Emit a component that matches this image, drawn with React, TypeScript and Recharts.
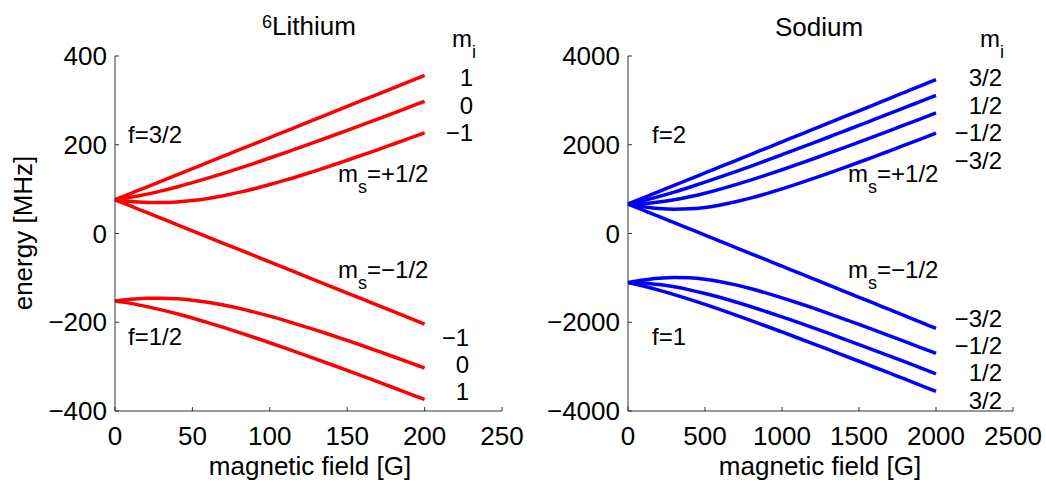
import React from 'react';
import { LineChart, Line, XAxis, YAxis } from 'recharts';

// 6Li: field in gauss, energies in MHz (one array per hyperfine state)
const liField = [0, 5, 10, 15, 20, 30, 40, 50, 60, 70, 80, 90, 100, 110, 120, 130, 140, 150, 160, 170, 180, 190, 200];
const liUpperP1 = [76.1, 83.1, 90.1, 97.1, 104.1, 118.1, 132.1, 146.1, 160.2, 174.2, 188.2, 202.2, 216.2, 230.2, 244.2, 258.3, 272.3, 286.3, 300.3, 314.3, 328.3, 342.3, 356.3];
const liUpper0 = [76.1, 78.6, 81.5, 84.7, 88.2, 96.1, 104.9, 114.5, 124.7, 135.5, 146.7, 158.2, 170.1, 182.2, 194.5, 207.0, 219.7, 232.5, 245.4, 258.4, 271.5, 284.7, 297.9];
const liUpperM1 = [76.1, 73.9, 72.2, 70.9, 70.0, 69.6, 71.0, 74.2, 79.0, 85.2, 92.6, 101.0, 110.3, 120.2, 130.8, 141.8, 153.2, 165.0, 177.0, 189.2, 201.7, 214.3, 227.0];
const liLowerM1 = [76.1, 69.1, 62.1, 55.1, 48.1, 34.1, 20.1, 6.0, -8.0, -22.0, -36.0, -50.0, -64.0, -78.0, -92.1, -106.1, -120.1, -134.1, -148.1, -162.1, -176.1, -190.2, -204.2];
const liLower0 = [-152.1, -150.0, -148.3, -146.9, -146.1, -145.7, -147.1, -150.3, -155.0, -161.2, -168.6, -177.1, -186.3, -196.3, -206.9, -217.9, -229.3, -241.0, -253.0, -265.3, -277.7, -290.3, -303.1];
const liLowerP1 = [-152.1, -154.6, -157.5, -160.8, -164.3, -172.1, -180.9, -190.5, -200.8, -211.5, -222.7, -234.3, -246.2, -258.3, -270.6, -283.1, -295.8, -308.6, -321.5, -334.5, -347.6, -360.8, -374.0];

// Sodium
const naField = [0, 50, 100, 150, 200, 300, 400, 500, 600, 700, 800, 900, 1000, 1100, 1200, 1300, 1400, 1500, 1600, 1700, 1800, 1900, 2000];
const naUpperP32 = [664, 734, 805, 875, 945, 1085, 1225, 1365, 1505, 1645, 1785, 1926, 2066, 2206, 2346, 2486, 2626, 2766, 2906, 3047, 3187, 3327, 3467];
const naUpperP12 = [664, 701, 742, 786, 833, 933, 1042, 1156, 1274, 1396, 1520, 1647, 1776, 1906, 2037, 2169, 2303, 2436, 2571, 2706, 2841, 2977, 3113];
const naUpperM12 = [664, 667, 675, 689, 708, 759, 827, 908, 1000, 1100, 1207, 1320, 1436, 1556, 1679, 1804, 1931, 2059, 2189, 2320, 2452, 2584, 2718];
const naUpperM32 = [664, 631, 603, 580, 563, 546, 555, 588, 643, 716, 802, 900, 1006, 1118, 1235, 1356, 1480, 1606, 1734, 1864, 1995, 2127, 2260];
const naLowerM32 = [664, 594, 524, 454, 384, 244, 104, -36, -176, -317, -457, -597, -737, -877, -1017, -1157, -1297, -1437, -1577, -1718, -1858, -1998, -2138];
const naLowerM12 = [-1107, -1074, -1046, -1023, -1006, -989, -998, -1031, -1086, -1158, -1245, -1343, -1449, -1561, -1678, -1799, -1923, -2049, -2177, -2307, -2438, -2570, -2703];
const naLowerP12 = [-1107, -1110, -1118, -1132, -1151, -1202, -1270, -1351, -1443, -1543, -1650, -1763, -1879, -1999, -2122, -2247, -2374, -2502, -2632, -2763, -2895, -3027, -3161];
const naLowerP32 = [-1107, -1144, -1185, -1229, -1276, -1376, -1484, -1598, -1717, -1839, -1963, -2090, -2219, -2349, -2480, -2612, -2745, -2879, -3014, -3149, -3284, -3420, -3556];

// axis ticks
const liXTicks = [0, 50, 100, 150, 200, 250];
const liYTicks = [-400, -200, 0, 200, 400];
const naXTicks = [0, 500, 1000, 1500, 2000, 2500];
const naYTicks = [-4000, -2000, 0, 2000, 4000];

// m_i labels at the line ends, top to bottom
const liUpperLabels = ['1', '0', '\u22121'];
const liLowerLabels = ['\u22121', '0', '1'];
const naUpperLabels = ['3/2', '1/2', '\u22121/2', '\u22123/2'];
const naLowerLabels = ['\u22123/2', '\u22121/2', '1/2', '3/2'];

const FONT = '"Liberation Sans", Arial, Helvetica, sans-serif';
const AXIS = '#333333';

const fmt = (v: number) => String(v).replace('-', '\u2212');

const buildRows = (field: number[], series: number[][]) =>
  field.map((b, i) => {
    const row: Record<string, number> = { b };
    series.forEach((s, k) => {
      row[`s${k}`] = s[i];
    });
    return row;
  });

const liRows = buildRows(liField, [liUpperP1, liUpper0, liUpperM1, liLowerM1, liLower0, liLowerP1]);
const naRows = buildRows(naField, [naUpperP32, naUpperP12, naUpperM12, naUpperM32, naLowerM32, naLowerM12, naLowerP12, naLowerP32]);

interface PanelProps {
  rows: Record<string, number>[];
  count: number;
  color: string;
  xMax: number;
  yMax: number;
  xTicks: number[];
  yTicks: number[];
  left: number;
  width: number;
  margin: { top: number; right: number; bottom: number; left: number };
}

const Panel: React.FC<PanelProps> = ({ rows, count, color, xMax, yMax, xTicks, yTicks, left, width, margin }) => (
  <div style={{ position: 'absolute', left, top: 0 }}>
    <LineChart width={width} height={483} data={rows} margin={margin}>
      <XAxis
        dataKey="b"
        type="number"
        domain={[0, xMax]}
        ticks={xTicks}
        height={30}
        stroke={AXIS}
        tickSize={-4}
        tickMargin={20}
        tickLine={{ stroke: AXIS }}
        tick={{ fill: '#000', fontSize: 26, fontFamily: FONT }}
        tickFormatter={fmt}
        interval={0}
      />
      <YAxis
        type="number"
        domain={[-yMax, yMax]}
        ticks={yTicks}
        width={60}
        stroke={AXIS}
        tickSize={-4}
        tickMargin={12}
        tickLine={{ stroke: AXIS }}
        tick={{ fill: '#000', fontSize: 26, fontFamily: FONT }}
        tickFormatter={fmt}
        interval={0}
      />
      {Array.from({ length: count }).map((_, k) => (
        <Line
          key={k}
          dataKey={`s${k}`}
          type="monotone"
          stroke={color}
          strokeWidth={3.5}
          dot={false}
          isAnimationActive={false}
        />
      ))}
    </LineChart>
  </div>
);

const Ms: React.FC<{ x: number; y: number; sign: string }> = ({ x, y, sign }) => (
  <text x={x} y={y} fontSize={24}>
    m<tspan fontSize={18} dy={11}>s</tspan>
    <tspan dy={-11}>{`=${sign}1/2`}</tspan>
  </text>
);

const Mi: React.FC<{ x: number }> = ({ x }) => (
  <text x={x} y={47} fontSize={24}>
    m<tspan fontSize={18} dy={11}>i</tspan>
  </text>
);

const App: React.FC = () => {
  const liUpperY = [85.5, 113.5, 140.5];
  const liLowerY = [346, 372.5, 399.5];
  const naUpperY = [85.5, 113.5, 140.5, 168.5];
  const naLowerY = [326.5, 353.5, 380.5, 408.5];

  return (
    <div style={{ position: 'absolute', left: 0, top: 0, width: 1046, height: 483, background: '#fff', fontFamily: FONT }}>
      <Panel
        rows={liRows}
        count={6}
        color="#ff0000"
        xMax={250}
        yMax={400}
        xTicks={liXTicks}
        yTicks={liYTicks}
        left={0}
        width={530}
        margin={{ top: 56, right: 28, bottom: 42, left: 55 }}
      />
      <Panel
        rows={naRows}
        count={8}
        color="#0000ff"
        xMax={2500}
        yMax={4000}
        xTicks={naXTicks}
        yTicks={naYTicks}
        left={520}
        width={526}
        margin={{ top: 56, right: 33, bottom: 42, left: 48 }}
      />
      <svg
        width={1046}
        height={483}
        style={{ position: 'absolute', left: 0, top: 0, pointerEvents: 'none' }}
        fontFamily={FONT}
        fill="#000"
      >
        {/* titles */}
        <text x={262} y={35} fontSize={26}>
          <tspan fontSize={18} dy={-7}>6</tspan>
          <tspan dy={7}>Lithium</tspan>
        </text>
        <text x={819} y={36} fontSize={26} textAnchor="middle">Sodium</text>

        {/* axis titles */}
        <text x={310} y={475} fontSize={26} textAnchor="middle">magnetic field [G]</text>
        <text x={820} y={475} fontSize={26} textAnchor="middle">magnetic field [G]</text>
        <text transform="translate(32,233) rotate(-90)" fontSize={26} textAnchor="middle">energy [MHz]</text>

        {/* m_i headers and values */}
        <Mi x={452} />
        <Mi x={980} />
        {liUpperLabels.map((t, i) => (
          <text key={`lu${i}`} x={473} y={liUpperY[i]} fontSize={24} textAnchor="end">{t}</text>
        ))}
        {liLowerLabels.map((t, i) => (
          <text key={`ll${i}`} x={469} y={liLowerY[i]} fontSize={24} textAnchor="end">{t}</text>
        ))}
        {naUpperLabels.map((t, i) => (
          <text key={`nu${i}`} x={1002} y={naUpperY[i]} fontSize={24} textAnchor="end">{t}</text>
        ))}
        {naLowerLabels.map((t, i) => (
          <text key={`nl${i}`} x={1002} y={naLowerY[i]} fontSize={24} textAnchor="end">{t}</text>
        ))}

        {/* m_s and f annotations */}
        <Ms x={338} y={182} sign="+" />
        <Ms x={338} y={278} sign={'\u2212'} />
        <Ms x={848} y={182} sign="+" />
        <Ms x={848} y={278} sign={'\u2212'} />
        <text x={128} y={143} fontSize={24}>f=3/2</text>
        <text x={128} y={345} fontSize={24}>f=1/2</text>
        <text x={652} y={143} fontSize={24}>f=2</text>
        <text x={652} y={345} fontSize={24}>f=1</text>
      </svg>
    </div>
  );
};

export default App;
